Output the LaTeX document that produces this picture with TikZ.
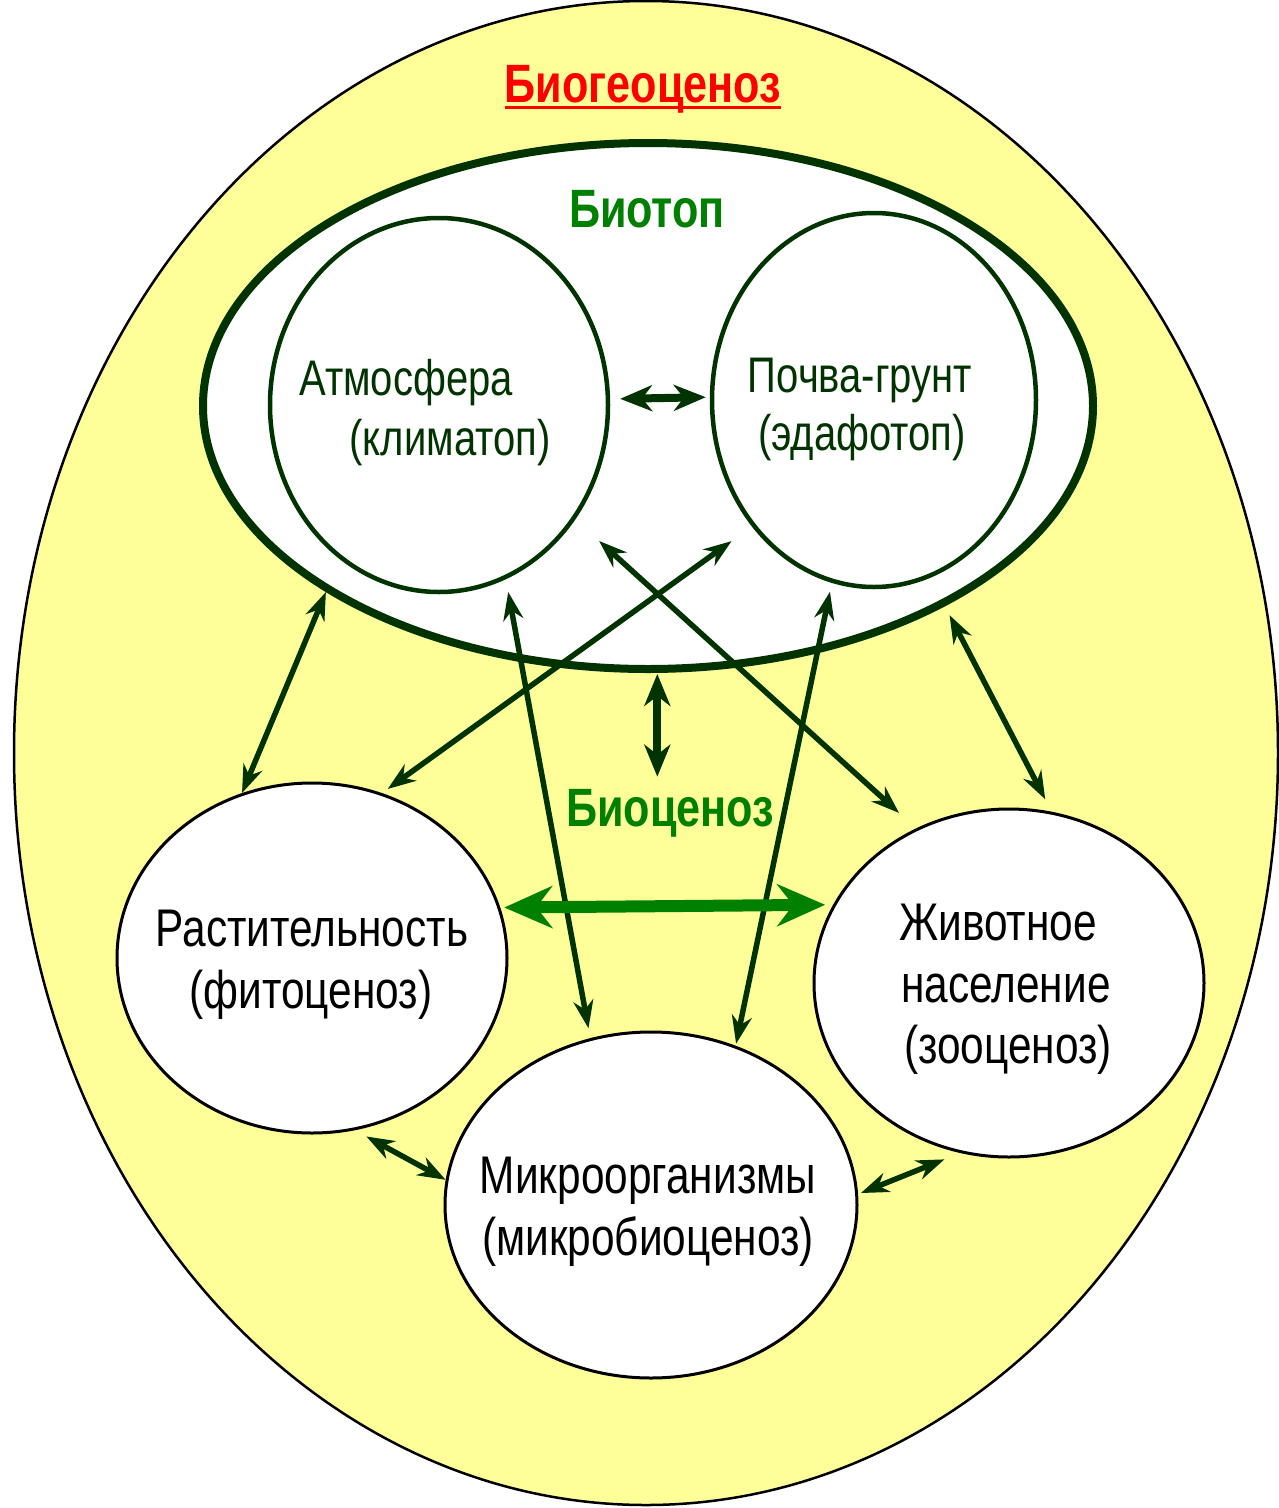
\documentclass[tikz,border=0pt]{standalone}
\usepackage{fontspec}
\setmainfont{Liberation Sans}
\newfontfamily\lbl[FakeStretch=0.8]{Liberation Sans}
\usetikzlibrary{shapes.geometric,arrows.meta}
\definecolor{pale}{HTML}{FFFF99}
\definecolor{deep}{HTML}{003300}
\definecolor{leaf}{HTML}{008000}
\definecolor{alert}{HTML}{FF0000}

\begin{document}
\begin{tikzpicture}[x=1pt,y=-1pt,
  oval/.style={ellipse, inner sep=0pt, fill=white},
  soft/.style={oval, draw=deep, line width=4.5pt},
  hard/.style={oval, draw=black, line width=3pt},
  toptxt/.style={font=\lbl\fontsize{50}{60}\selectfont, text=deep, inner sep=0pt, anchor=base},
  lowtxt/.style={font=\lbl\fontsize{53}{64}\selectfont, text=black, inner sep=0pt, anchor=base},
  headtxt/.style={font=\lbl\bfseries\fontsize{54}{64}\selectfont, inner sep=0pt, anchor=base},
  link/.style={draw=deep, line width=5.5pt,
    {Stealth[length=28pt,width=20pt,inset=9pt]}-{Stealth[length=28pt,width=20pt,inset=9pt]}},
  boldlink/.style={draw=deep, line width=8pt,
    {Stealth[length=32pt,width=26pt,inset=10pt]}-{Stealth[length=32pt,width=26pt,inset=10pt]}},
  mainlink/.style={draw=leaf, line width=12pt,
    {Stealth[length=48pt,width=42pt,inset=16pt]}-{Stealth[length=48pt,width=42pt,inset=16pt]}}
]
\useasboundingbox (0,0) rectangle (1279,1508);
\fill[white] (0,0) rectangle (1279,1508);

% outer biogeocenosis ellipse
\node[ellipse, inner sep=0pt, minimum width=1264pt, minimum height=1504pt,
      fill=pale, draw=black, line width=2.5pt] (eco) at (646,753) {};

% biotope and its two parts
\node[oval, draw=deep, line width=8pt, minimum width=890pt, minimum height=526pt] (bio) at (648,406) {};
\node[soft, minimum width=338pt, minimum height=374pt] (atm) at (439,405) {};
\node[soft, minimum width=324pt, minimum height=374pt] (soil) at (874,400) {};

% biocenosis parts
\node[hard, minimum width=390pt, minimum height=350pt] (plant) at (312,958) {};
\node[hard, minimum width=390pt, minimum height=348pt] (fauna) at (1009,983) {};
\node[hard, minimum width=412pt, minimum height=346pt] (micro) at (651,1205) {};

% headings
\node[headtxt, text=alert] (title) at (643,102) {Биогеоценоз};
\draw[alert, line width=3pt] ([yshift=-5pt]title.base west) -- ([yshift=-5pt]title.base east);
\node[headtxt, text=leaf] (biotxt) at (647,227) {Биотоп};
\node[headtxt, text=leaf] (cenotxt) at (670,826) {Биоценоз};

% labels inside the circles
\node[toptxt] (atm1) at (406,395) {Атмосфера};
\node[toptxt] (atm2) at (450,455) {(климатоп)};
\node[toptxt] (soil1) at (860,392) {Почва-грунт};
\node[toptxt] (soil2) at (862,450) {(эдафотоп)};
\node[lowtxt] (plant1) at (312,946) {Растительность};
\node[lowtxt] (plant2) at (311,1008) {(фитоценоз)};
\node[lowtxt] (fauna1) at (998,940) {Животное};
\node[lowtxt] (fauna2) at (1006,1002) {население};
\node[lowtxt] (fauna3) at (1008,1063) {(зооценоз)};
\node[lowtxt] (micro1) at (648,1193) {Микроорганизмы};
\node[lowtxt] (micro2) at (648,1255) {(микробиоценоз)};

% interactions
\draw[boldlink, shorten <=10pt, shorten >=4pt] (atm.2.7) -- (soil.179);
\draw[boldlink, shorten <=1pt, shorten >=12pt] (bio.272) -- (bio.272 |- cenotxt.north);
\draw[link] (bio.210) -- (plant.113);
\draw[link, shorten <=10pt, shorten >=14pt] (bio.326.9) -- (fauna.76.8);
\draw[link, shorten <=25pt, shorten >=7pt] (soil.226.1) -- (plant.67.1);
\draw[link, shorten <=32pt, shorten >=23pt] (atm.320.6) -- (fauna.121.7);
\draw[link, shorten <=13pt, shorten >=10pt] (atm.291.2) -- (micro.110.7);
\draw[link, shorten <=9pt, shorten >=2pt] (soil.257.5) -- (micro.62.1);
\draw[mainlink, shorten <=4pt, shorten >=8pt] (plant.15.3) -- (fauna.156.6);
\draw[link, shorten <=13pt] (plant.284.7) -- (micro.173);
\draw[link, shorten <=3pt, shorten >=17pt] (micro.3) -- (fauna.254);
\end{tikzpicture}
\end{document}
